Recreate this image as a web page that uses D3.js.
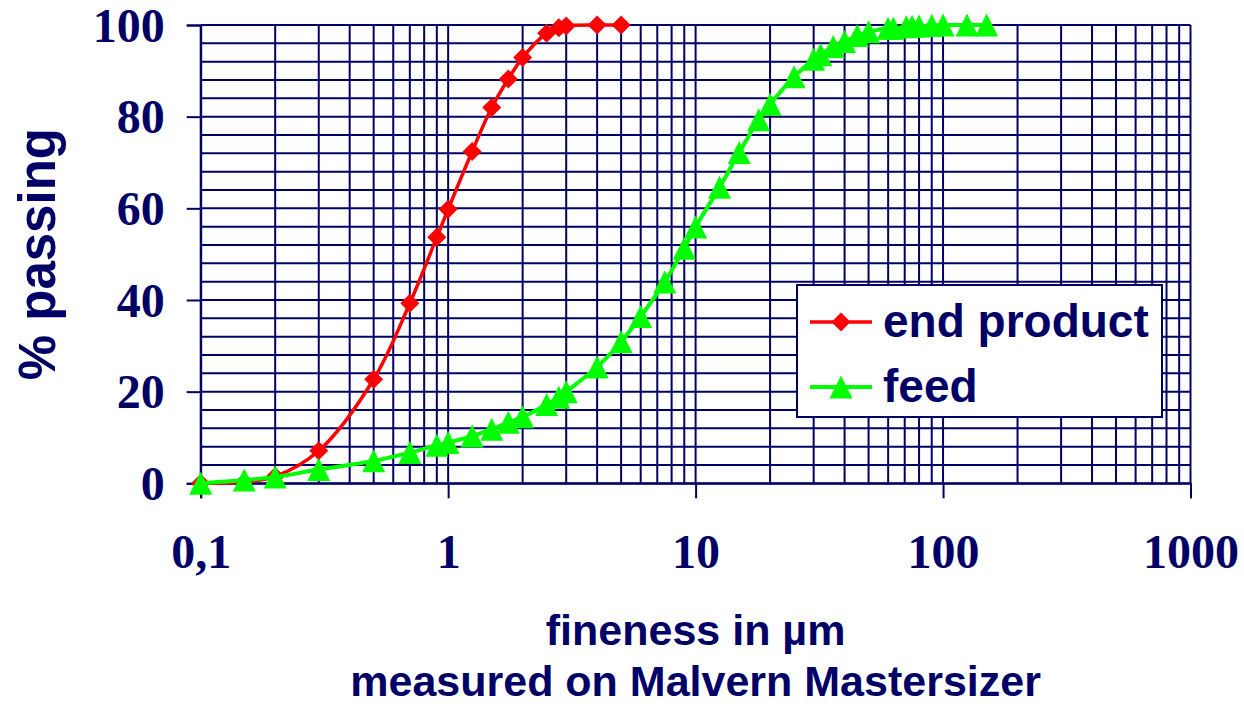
<!DOCTYPE html>
<html>
<head>
<meta charset="utf-8">
<script src="https://cdn.jsdelivr.net/npm/d3@7"></script>
<style>
  html, body { margin: 0; padding: 0; background: #fff; }
</style>
</head>
<body>
<div id="chart"></div>
<script>
// particle size distribution, log x axis
const sizeEnd = [0.1, 0.15, 0.2, 0.3, 0.5, 0.7, 0.9, 1, 1.25, 1.5, 1.75, 2, 2.5, 2.8, 3, 4, 5];
const passEnd = [0, 0.3, 1.5, 7.1, 22.7, 39.3, 53.7, 59.8, 72.4, 82.0, 88.2, 92.9, 98.2, 99.4, 99.8, 100, 100];

const sizeFeed = [0.1, 0.15, 0.2, 0.3, 0.5, 0.7, 0.9, 1, 1.25, 1.5, 1.75, 2, 2.5, 2.8, 3, 4, 5, 6, 7.5, 9,
  10, 12.5, 15, 18, 20, 25, 30, 32, 36, 40, 45, 50, 60, 63, 71, 75, 80, 90, 100, 125, 150];
const passFeed = [0, 0.7, 1.4, 3.0, 4.9, 6.7, 8.3, 8.9, 10.3, 11.8, 13.3, 14.5, 17.2, 18.8, 20.0, 25.4, 30.9, 36.4, 43.9, 51.3,
  55.9, 64.6, 72.2, 79.3, 82.7, 88.7, 92.5, 93.5, 95.3, 96.4, 97.7, 98.5, 99.3, 99.3, 99.6, 99.7, 99.8, 99.9, 100, 100, 100];

const xTickValues = [0.1, 1, 10, 100, 1000];
const xTickLabels = ["0,1", "1", "10", "100", "1000"];
const yTickValues = [0, 20, 40, 60, 80, 100];
const seriesNames = ["end product", "feed"];

const width = 1244, height = 706;
const navy = "#000066";

const svg = d3.select("#chart").append("svg")
  .attr("width", width)
  .attr("height", height);

const x = d3.scaleLog().domain([0.1, 1000]).range([200.7, 1190.5]);
const y = d3.scaleLinear().domain([0, 100]).range([483.3, 25]);

// === grid ===
const grid = svg.append("g").attr("stroke", navy).attr("stroke-width", 2);

grid.selectAll("line.v")
  .data(x.ticks())
  .join("line")
  .attr("class", "v")
  .attr("x1", d => x(d)).attr("x2", d => x(d))
  .attr("y1", y(0)).attr("y2", y(100));

grid.selectAll("line.h")
  .data(d3.range(0, 101, 4))
  .join("line")
  .attr("class", "h")
  .attr("x1", x(0.1)).attr("x2", x(1000))
  .attr("y1", d => y(d)).attr("y2", d => y(d));

// === axes ===
const xAxis = d3.axisBottom(x)
  .tickValues(xTickValues)
  .tickFormat((d, i) => xTickLabels[i])
  .tickSize(15)
  .tickPadding(36);

const yAxis = d3.axisLeft(y)
  .tickValues(yTickValues)
  .tickSize(14)
  .tickPadding(22);

const gx = svg.append("g").attr("transform", `translate(0,${y(0)})`).call(xAxis);
const gy = svg.append("g").attr("transform", `translate(${x(0.1)},0)`).call(yAxis);

[gx, gy].forEach(g => {
  g.select(".domain").attr("stroke", navy).attr("stroke-width", 2);
  g.selectAll(".tick line").attr("stroke", navy).attr("stroke-width", 2);
  g.selectAll(".tick text")
    .attr("fill", navy)
    .attr("font-family", "'Liberation Serif', 'Times New Roman', serif")
    .attr("font-weight", "bold")
    .attr("font-size", 48);
});
gy.selectAll(".tick text").attr("dy", "0.34em");

// === titles ===
svg.append("text")
  .attr("transform", `translate(55,${(y(0) + y(100)) / 2}) rotate(-90)`)
  .attr("text-anchor", "middle")
  .attr("fill", navy)
  .attr("font-family", "'Liberation Sans', Arial, sans-serif")
  .attr("font-weight", "bold")
  .attr("font-size", 51)
  .text("% passing");

const xMid = (x(0.1) + x(1000)) / 2;
svg.append("text")
  .attr("x", xMid).attr("y", 645)
  .attr("text-anchor", "middle")
  .attr("fill", navy)
  .attr("font-family", "'Liberation Sans', Arial, sans-serif")
  .attr("font-weight", "bold")
  .attr("font-size", 43)
  .text("fineness in µm");

svg.append("text")
  .attr("x", xMid).attr("y", 696)
  .attr("text-anchor", "middle")
  .attr("fill", navy)
  .attr("font-family", "'Liberation Sans', Arial, sans-serif")
  .attr("font-weight", "bold")
  .attr("font-size", 43)
  .text("measured on Malvern Mastersizer");

// === markers ===
const triangle = {
  draw(ctx, size) {
    const w = Math.sqrt(size), h = w;
    ctx.moveTo(0, -h / 2);
    ctx.lineTo(w / 2, h / 2);
    ctx.lineTo(-w / 2, h / 2);
    ctx.closePath();
  }
};
const diamond = {
  draw(ctx, size) {
    const r = Math.sqrt(size) / 2;
    ctx.moveTo(0, -r);
    ctx.lineTo(r, 0);
    ctx.lineTo(0, r);
    ctx.lineTo(-r, 0);
    ctx.closePath();
  }
};
const diamondPath = d3.symbol().type(diamond).size(19 * 19)();
const trianglePath = d3.symbol().type(triangle).size(23 * 23)();

const series = [
  { name: seriesNames[0], xs: sizeEnd, ys: passEnd, color: "#ff0000", width: 3.5, marker: diamondPath },
  { name: seriesNames[1], xs: sizeFeed, ys: passFeed, color: "#00ff00", width: 4, marker: trianglePath }
];

const line = d3.line()
  .x(d => x(d[0]))
  .y(d => y(d[1]))
  .curve(d3.curveCatmullRom.alpha(0.5));

series.forEach(s => {
  const pts = s.xs.map((v, i) => [v, s.ys[i]]);
  const g = svg.append("g");
  g.append("path")
    .datum(pts)
    .attr("d", line)
    .attr("fill", "none")
    .attr("stroke", s.color)
    .attr("stroke-width", s.width);
  g.selectAll("path.m")
    .data(pts)
    .join("path")
    .attr("class", "m")
    .attr("d", s.marker)
    .attr("transform", d => `translate(${x(d[0])},${y(d[1])})`)
    .attr("fill", s.color);
});

// === legend ===
const legend = svg.append("g");
legend.append("rect")
  .attr("x", 797).attr("y", 285)
  .attr("width", 365).attr("height", 132)
  .attr("fill", "#fff")
  .attr("stroke", navy)
  .attr("stroke-width", 2);

const rows = [322, 387];
series.forEach((s, i) => {
  const ly = rows[i];
  legend.append("line")
    .attr("x1", 810).attr("x2", 872)
    .attr("y1", ly).attr("y2", ly)
    .attr("stroke", s.color)
    .attr("stroke-width", s.width);
  legend.append("path")
    .attr("d", s.marker)
    .attr("transform", `translate(841,${ly})`)
    .attr("fill", s.color);
  legend.append("text")
    .attr("x", 883).attr("y", ly + 15)
    .attr("fill", navy)
    .attr("font-family", "'Liberation Sans', Arial, sans-serif")
    .attr("font-weight", "bold")
    .attr("font-size", 46)
    .text(s.name);
});
</script>
</body>
</html>
